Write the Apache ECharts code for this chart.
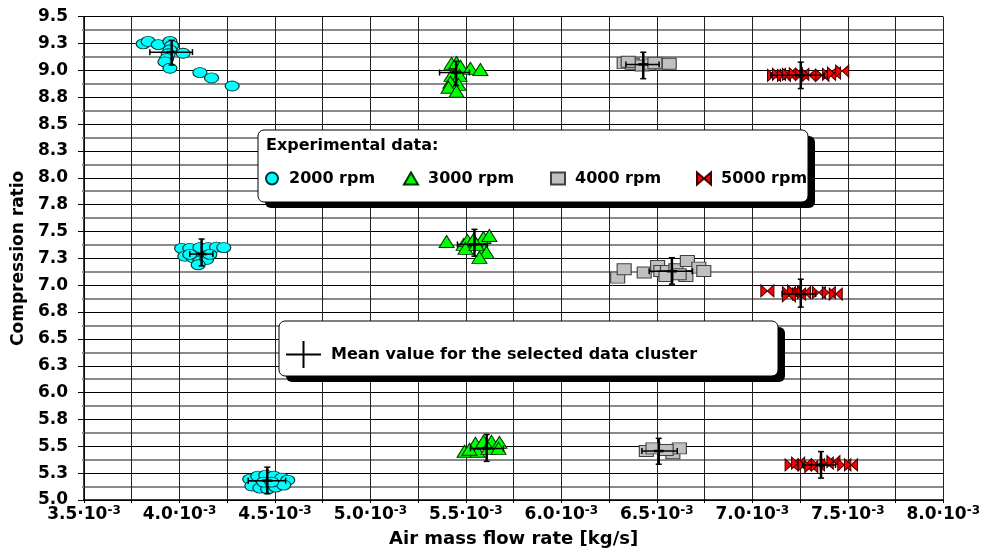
<!DOCTYPE html>
<html>
<head>
<meta charset="utf-8">
<script src="https://cdn.jsdelivr.net/npm/echarts@6/dist/echarts.min.js"></script>
<style>html,body{margin:0;padding:0;background:#fff;}#c{width:983px;height:553px;}</style>
</head>
<body>
<div id="c"></div>
<script>
// ---- data (x: air mass flow rate in kg/s, y: compression ratio) ----
const seriesNames = ['2000 rpm', '3000 rpm', '4000 rpm', '5000 rpm'];
const meanName = 'Mean value for the selected data cluster';
const legendTitle = 'Experimental data:';
const xAxisTitle = 'Air mass flow rate [kg/s]';
const yAxisTitle = 'Compression ratio';

const xTickMantissas = ['3.5','3.8','4.0','4.3','4.5','4.8','5.0','5.3','5.5','5.8','6.0','6.3','6.5','6.8','7.0','7.3','7.5','7.8','8.0'];
const xTickExponent = '-3';
const yTickLabels = ['5.0','5.3','5.5','5.8','6.0','6.3','6.5','6.8','7.0','7.3','7.5','7.8','8.0','8.3','8.5','8.8','9.0','9.3','9.5'];

const rpm2000 = [
  [3.810e-3,9.247],[3.836e-3,9.270],[3.889e-3,9.240],[3.950e-3,9.270],[3.959e-3,9.230],[3.950e-3,9.190],[4.019e-3,9.160],
  [3.941e-3,9.155],[3.933e-3,9.110],[3.924e-3,9.080],[3.950e-3,9.020],[4.107e-3,8.980],[4.168e-3,8.930],[4.276e-3,8.855],
  [4.011e-3,7.343],[4.054e-3,7.343],[4.107e-3,7.350],[4.150e-3,7.350],[4.194e-3,7.355],[4.232e-3,7.350],[4.028e-3,7.270],
  [4.072e-3,7.256],[4.107e-3,7.225],[4.142e-3,7.240],[4.098e-3,7.190],[4.054e-3,7.287],[4.159e-3,7.287],
  [4.368e-3,5.194],[4.410e-3,5.222],[4.452e-3,5.231],[4.494e-3,5.222],[4.536e-3,5.204],[4.567e-3,5.185],[4.379e-3,5.130],
  [4.421e-3,5.111],[4.462e-3,5.102],[4.504e-3,5.120],[4.546e-3,5.139],[4.441e-3,5.167],[4.483e-3,5.167]
];
const rpm3000 = [
  [5.425e-3,9.065],[5.451e-3,9.074],[5.472e-3,9.037],[5.524e-3,9.019],[5.576e-3,9.009],[5.425e-3,8.954],[5.467e-3,8.954],
  [5.419e-3,8.889],[5.461e-3,8.870],[5.409e-3,8.843],[5.451e-3,8.806],
  [5.399e-3,7.407],[5.488e-3,7.380],[5.508e-3,7.417],[5.540e-3,7.426],[5.592e-3,7.444],[5.623e-3,7.463],[5.498e-3,7.343],
  [5.597e-3,7.333],[5.608e-3,7.306],[5.571e-3,7.259],[5.555e-3,7.380],
  [5.493e-3,5.454],[5.561e-3,5.454],[5.550e-3,5.528],[5.592e-3,5.546],[5.634e-3,5.546],[5.676e-3,5.537],[5.618e-3,5.481],
  [5.671e-3,5.481],[5.519e-3,5.472]
];
const rpm4000 = [
  [6.329e-3,9.068],[6.371e-3,9.062],[6.423e-3,9.046],[6.469e-3,9.056],[6.528e-3,9.056],[6.565e-3,9.062],[6.350e-3,9.080],[6.490e-3,9.070],
  [6.295e-3,7.071],[6.329e-3,7.148],[6.434e-3,7.118],[6.504e-3,7.179],[6.521e-3,7.132],[6.556e-3,7.132],[6.600e-3,7.148],
  [6.660e-3,7.225],[6.652e-3,7.086],[6.720e-3,7.164],[6.746e-3,7.132],[6.617e-3,7.102],[6.548e-3,7.086],
  [6.445e-3,5.456],[6.480e-3,5.481],[6.584e-3,5.435],[6.618e-3,5.481],[6.549e-3,5.466]
];
const rpm5000 = [
  [7.114e-3,8.954],[7.140e-3,8.963],[7.166e-3,8.954],[7.192e-3,8.963],[7.228e-3,8.969],[7.262e-3,8.963],[7.297e-3,8.954],
  [7.367e-3,8.954],[7.402e-3,8.963],[7.428e-3,8.975],[7.471e-3,8.994],
  [7.079e-3,6.947],[7.192e-3,6.932],[7.219e-3,6.947],[7.245e-3,6.917],[7.271e-3,6.932],[7.192e-3,6.901],[7.349e-3,6.932],
  [7.401e-3,6.932],[7.437e-3,6.917],
  [7.206e-3,5.327],[7.240e-3,5.343],[7.275e-3,5.327],[7.309e-3,5.312],[7.344e-3,5.327],[7.390e-3,5.343],[7.425e-3,5.358],
  [7.482e-3,5.327],[7.517e-3,5.327]
];
// mean values: [x, y, xMin, xMax, yMin, yMax]
const clusterMeans = [
  [3.959e-3,9.170,3.845e-3,4.068e-3,9.050,9.280],
  [4.116e-3,7.290,4.054e-3,4.175e-3,7.180,7.430],
  [4.460e-3,5.180,4.360e-3,4.556e-3,5.060,5.306],
  [5.449e-3,8.980,5.362e-3,5.519e-3,8.860,9.085],
  [5.545e-3,7.380,5.456e-3,5.613e-3,7.270,7.520],
  [5.609e-3,5.480,5.524e-3,5.697e-3,5.360,5.610],
  [6.429e-3,9.056,6.338e-3,6.512e-3,8.923,9.169],
  [6.579e-3,7.130,6.460e-3,6.687e-3,7.010,7.256],
  [6.510e-3,5.456,6.422e-3,6.607e-3,5.333,5.574],
  [7.254e-3,8.954,7.097e-3,7.376e-3,8.831,9.077],
  [7.254e-3,6.917,7.156e-3,7.332e-3,6.796,7.056],
  [7.360e-3,5.327,7.263e-3,7.436e-3,5.204,5.451]
];

// ---- chart ----
const FONT = 'DejaVu Sans';
const bowtie = 'path://M0,0L7,6L0,12ZM14,0L7,6L14,12Z';
const crossIcon = 'path://M0,12.5L35,12.5L35,14.5L0,14.5ZM16.5,0L18.5,0L18.5,27L16.5,27Z';
const seriesIcons = ['circle', 'triangle', 'rect', bowtie];
const legendLefts = [265, 403, 550, 696];
const chart = echarts.init(document.getElementById('c'), null, {renderer: 'canvas'});

function meanRender(params, api) {
  const c = api.coord([api.value(0), api.value(1)]);
  const l = api.coord([api.value(2), api.value(1)]);
  const r = api.coord([api.value(3), api.value(1)]);
  const b = api.coord([api.value(0), api.value(4)]);
  const t = api.coord([api.value(0), api.value(5)]);
  const st = {stroke: '#000', lineWidth: 1.5};
  const cap = 3;
  return {
    type: 'group',
    children: [
      {type: 'line', shape: {x1: l[0], y1: c[1], x2: r[0], y2: c[1]}, style: st},
      {type: 'line', shape: {x1: l[0], y1: c[1] - cap, x2: l[0], y2: c[1] + cap}, style: st},
      {type: 'line', shape: {x1: r[0], y1: c[1] - cap, x2: r[0], y2: c[1] + cap}, style: st},
      {type: 'line', shape: {x1: c[0], y1: t[1], x2: c[0], y2: b[1]}, style: {stroke: '#000', lineWidth: 2.5}},
      {type: 'line', shape: {x1: c[0] - cap, y1: t[1], x2: c[0] + cap, y2: t[1]}, style: st},
      {type: 'line', shape: {x1: c[0] - cap, y1: b[1], x2: c[0] + cap, y2: b[1]}, style: st},
      {type: 'line', shape: {x1: c[0] - 5, y1: c[1], x2: c[0] + 5, y2: c[1]}, style: {stroke: '#000', lineWidth: 2.5}}
    ]
  };
}

const scatterBase = {type: 'scatter', z: 3, animation: false};
const legendText = {fontFamily: FONT, fontWeight: 'bold', fontSize: 16, color: '#000', padding: [0, 0, 0, 5]};

const legends = seriesNames.map(function (n, i) {
  return {
    left: legendLefts[i], top: 170.5, orient: 'horizontal', selectedMode: false, z: 20,
    data: [{name: n, icon: seriesIcons[i]}],
    itemWidth: 14, itemHeight: 12, padding: 0,
    textStyle: legendText
  };
});
legends.push({
  left: 279, top: 321, orient: 'horizontal', selectedMode: false, z: 20,
  data: [{name: meanName, icon: crossIcon, itemStyle: {color: '#000', borderWidth: 0}}],
  itemWidth: 35, itemHeight: 27,
  padding: [20, 83, 8, 7],
  textStyle: legendText
});

const option = {
  animation: false,
  backgroundColor: '#fff',
  textStyle: {fontFamily: FONT},
  title: {
    text: legendTitle, left: 266, top: 138, padding: 0, z: 20,
    textStyle: {fontFamily: FONT, fontWeight: 'bold', fontSize: 16, color: '#000'}
  },
  graphic: [
    {type: 'rect', z: 6, shape: {x: 265, y: 136, width: 550, height: 72, r: 6}, style: {fill: '#000'}},
    {type: 'rect', z: 7, shape: {x: 258, y: 130, width: 550, height: 72, r: 6}, style: {fill: '#fff', stroke: '#000', lineWidth: 1}},
    {type: 'rect', z: 6, shape: {x: 286, y: 327, width: 499, height: 55, r: 6}, style: {fill: '#000'}},
    {type: 'rect', z: 7, shape: {x: 279, y: 321, width: 499, height: 55, r: 6}, style: {fill: '#fff', stroke: '#000', lineWidth: 1}}
  ],
  grid: {left: 84, right: 38, top: 16.7, bottom: 50.7, containLabel: false},
  xAxis: {
    type: 'value', min: 0.0035, max: 0.008, interval: 0.00025,
    name: xAxisTitle, nameLocation: 'middle', nameGap: 30,
    nameTextStyle: {fontFamily: FONT, fontWeight: 'bold', fontSize: 18, color: '#000'},
    axisLine: {onZero: false, lineStyle: {color: '#000', width: 1.5}},
    axisTick: {show: true, length: 3, lineStyle: {color: '#000'}},
    splitLine: {show: true, lineStyle: {color: '#222', width: 1}},
    axisLabel: {
      margin: 5, color: '#000', showMinLabel: true, showMaxLabel: true,
      formatter: function (v) {
        const k = Math.round((v - 0.0035) / 0.00025);
        if (k % 2 !== 0) return '';
        return '{a|' + xTickMantissas[k] + '·10}{s|' + xTickExponent + '}';
      },
      rich: {
        a: {fontFamily: FONT, fontWeight: 'bold', fontSize: 17, color: '#000', lineHeight: 19},
        s: {fontFamily: FONT, fontWeight: 'bold', fontSize: 12, color: '#000', verticalAlign: 'top', lineHeight: 12}
      }
    }
  },
  yAxis: {
    type: 'value', min: 5, max: 9.5, interval: 0.25,
    name: yAxisTitle, nameLocation: 'middle', nameGap: 57,
    nameTextStyle: {fontFamily: FONT, fontWeight: 'bold', fontSize: 17, color: '#000'},
    axisLine: {onZero: false, lineStyle: {color: '#000', width: 1.5}},
    axisTick: {show: true, length: 6, lineStyle: {color: '#000'}},
    minorTick: {show: true, splitNumber: 2, length: 2, lineStyle: {color: '#8a8a8a', width: 2}},
    minorSplitLine: {show: true, lineStyle: {color: '#8a8a8a', width: 2}},
    splitLine: {show: true, lineStyle: {color: '#000', width: 1}},
    axisLabel: {
      margin: 16, color: '#000', fontFamily: FONT, fontWeight: 'bold', fontSize: 17,
      formatter: function (v) { return yTickLabels[Math.round((v - 5) / 0.25)]; }
    }
  },
  legend: legends,
  series: [
    Object.assign({}, scatterBase, {
      name: seriesNames[0], data: rpm2000, symbol: 'circle', symbolSize: [14, 10],
      itemStyle: {color: '#00FFFF', borderColor: '#003838', borderWidth: 1, opacity: 1}
    }),
    Object.assign({}, scatterBase, {
      name: seriesNames[1], data: rpm3000, symbol: 'triangle', symbolSize: [15, 12],
      itemStyle: {color: '#00FF00', borderColor: '#003300', borderWidth: 1, opacity: 1}
    }),
    Object.assign({}, scatterBase, {
      name: seriesNames[2], data: rpm4000, symbol: 'rect', symbolSize: [14, 11],
      itemStyle: {color: '#C0C0C0', borderColor: '#404040', borderWidth: 1, opacity: 1}
    }),
    Object.assign({}, scatterBase, {
      name: seriesNames[3], data: rpm5000, symbol: bowtie, symbolSize: [13, 12],
      itemStyle: {color: '#FF0000', borderColor: '#400000', borderWidth: 1, opacity: 1}
    }),
    {
      name: meanName, type: 'custom', z: 5, data: clusterMeans,
      renderItem: meanRender,
      encode: {x: [0, 2, 3], y: [1, 4, 5]},
      itemStyle: {color: '#000'}
    }
  ]
};
chart.setOption(option);
</script>
</body>
</html>
